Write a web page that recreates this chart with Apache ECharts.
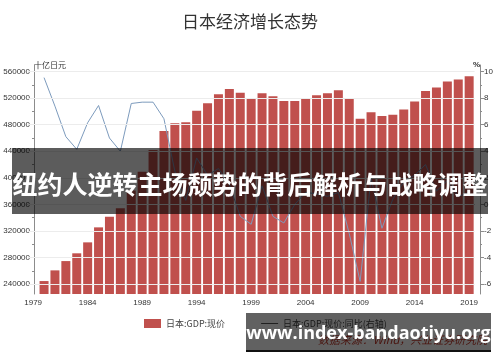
<!DOCTYPE html>
<html><head><meta charset="utf-8">
<script src="https://cdn.jsdelivr.net/npm/echarts@6/dist/echarts.min.js"></script>
<style>html,body{margin:0;padding:0;background:#fff}#c{width:500px;height:362px}</style>
</head><body><div id="c"></div>
<script>
const years = ['1979','1980','1981','1982','1983','1984','1985','1986','1987','1988','1989','1990','1991','1992','1993','1994','1995','1996','1997','1998','1999','2000','2001','2002','2003','2004','2005','2006','2007','2008','2009','2010','2011','2012','2013','2014','2015','2016','2017','2018','2019'];
const gdp = ['-',244500,260600,274600,286300,302800,325400,341400,354000,381000,409200,441900,470500,482100,483600,501100,512200,525800,533800,528200,520200,527300,522800,515700,515700,520200,524300,527300,531800,520000,489000,499000,493000,495000,503000,515000,531000,536000,545000,548000,553000];
const growth = ['-',9.55,7.4,5.1,4.15,6.15,7.45,5.0,4.0,7.6,7.7,7.7,6.45,2.5,0.3,3.5,2.2,2.7,1.5,-0.9,-1.5,1.4,-0.9,-1.4,0.0,0.9,0.8,0.6,0.9,-2.2,-5.8,2.0,-1.8,0.4,1.7,2.2,3.0,1.0,1.8,0.6,0.9];
const leftTicks = [240000,280000,320000,360000,400000,440000,480000,520000,560000];
const leftMinor = [260000,300000,340000,380000,420000,460000,500000,540000];
const rightTicks = [-6,-4,-2,0,2,4,6,8,10];
const rightMinor = [-5,-3,-1,1,3,5,7,9];
const seriesNames = ['日本:GDP:现价','日本:GDP:现价:同比(右轴)'];

const LMIN = 225000, LMAX = 570000, RMIN = -6.75, RMAX = 10.5;
const axisCol = '#8c8c8c';
const lblFont = {fontFamily:'Liberation Sans, Arial, sans-serif', fontSize:8, color:'#333'};

function yAx(pos, min, max, ticks, offset, showLine, major) {
  return {
    type:'value', position:pos, min:min, max:max, offset:offset,
    axisLine:{show:showLine, lineStyle:{color:axisCol, width:1}},
    axisTick:{show:true, inside:false, length: major?4:2, customValues: ticks, lineStyle:{color:axisCol}},
    axisLabel:{show:major, customValues: ticks, margin:4, formatter: v => String(v), ...lblFont},
    splitLine:{show:false}
  };
}

const chart = echarts.init(document.getElementById('c'), null, {renderer:'canvas'});
chart.setOption({
  animation:false,
  backgroundColor:'#fff',
  title:{text:'日本经济增长态势', left:'center', top:8, textStyle:{fontFamily:'Noto Sans CJK SC', fontSize:17, fontWeight:'normal', color:'#333'}},
  grid:{left:27.7, right:25.4, top:65, bottom:68},
  legend:{
    left:139, top:314, itemWidth:17, itemHeight:9, itemGap:36,
    textStyle:{fontFamily:'Noto Sans CJK SC', fontSize:9, color:'#444'},
    data:[{name:seriesNames[0], icon:'rect'},
          {name:seriesNames[1], icon:'path://M0,0L17,0L17,1L0,1Z', itemStyle:{color:'#555'}}]
  },
  xAxis:{
    type:'category', data:years, boundaryGap:true,
    axisLine:{lineStyle:{color:axisCol}},
    axisTick:{interval:0, length:3, lineStyle:{color:axisCol}},
    axisLabel:{interval:4, margin:5, ...lblFont}
  },
  yAxis:[
    yAx('left', LMIN, LMAX, leftTicks, -6.3, true, true),
    yAx('right', RMIN, RMAX, rightTicks, 5.4, true, true),
    yAx('left', LMIN, LMAX, leftMinor, -6.3, false, false),
    yAx('right', RMIN, RMAX, rightMinor, 5.4, false, false)
  ],
  series:[
    {name:seriesNames[0], type:'bar', data:gdp, yAxisIndex:0, barWidth:9,
     itemStyle:{color:'#c0504d'},
     markLine:{silent:true, symbol:'none', label:{show:false},
       lineStyle:{color:'#ececec', type:'solid', width:1},
       data: leftTicks.map(v=>({yAxis:v}))}, z:2},
    {name:seriesNames[1], type:'line', data:growth, yAxisIndex:1, showSymbol:false, symbol:'none',
     lineStyle:{color:'#7d9bbd', width:1}, z:3}
  ],
  graphic:[
    {type:'text', left:34, top:61, z:10, style:{text:'十亿日元', fontFamily:'Noto Sans CJK SC', fontSize:8, fill:'#333'}},
    {type:'text', left:473, top:61, z:10, style:{text:'%', fontFamily:'Liberation Sans, Arial', fontSize:8, fontWeight:'bold', fill:'#333'}},
    {type:'text', left:318, top:334, z:10, style:{text:'数据来源：Wind，兴业证券研究院', fontFamily:'Noto Sans CJK SC', fontSize:11, fontStyle:'italic', fill:'#c0392b'}},
    {type:'rect', shape:{x:12, y:148, width:476, height:66}, z:100, style:{fill:'rgba(0,0,0,0.64)'}},
    {type:'text', x:250, y:184, z:101, style:{text:'纽约人逆转主场颓势的背后解析与战略调整', fontFamily:'Noto Sans CJK SC', fontSize:25, fontWeight:'bold', fill:'#fff', align:'center', verticalAlign:'middle'}},
    {type:'rect', shape:{x:246, y:313, width:245, height:39}, z:100, style:{fill:'rgba(0,0,0,0.62)'}},
    {type:'rect', shape:{x:246, y:350, width:245, height:2}, z:100, style:{fill:'#111'}},
    {type:'text', x:368.5, y:334, z:101, style:{text:'www.index-bandaotiyu.org', fontFamily:'Open Sans, DejaVu Sans, sans-serif', fontSize:18, fontWeight:'bold', fill:'#fff', align:'center', verticalAlign:'middle'}}
  ]
});
</script></body></html>
